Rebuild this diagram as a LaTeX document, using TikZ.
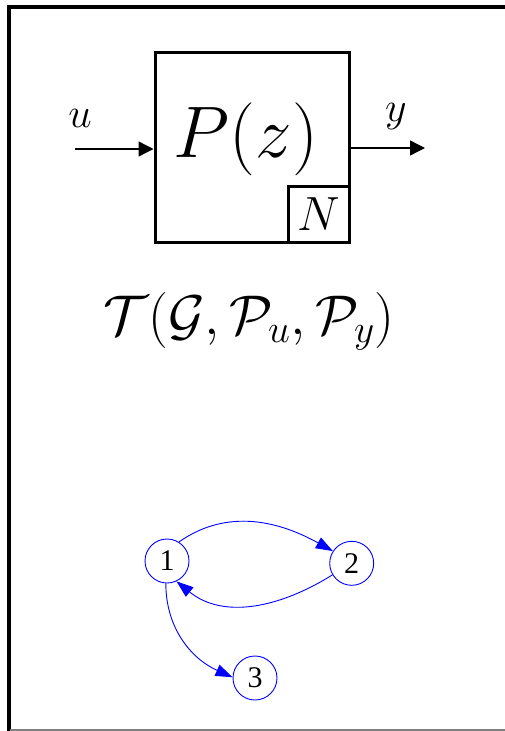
\RequirePackage{fix-cm}
\documentclass[tikz,border=0pt]{standalone}
\usepackage{fontspec}
\newfontfamily\timesf{Liberation Serif}
\usetikzlibrary{arrows.meta}
\begin{document}
\begin{tikzpicture}[x=1pt,y=-1pt,
  blkbox/.style={draw=black, line width=3pt, inner sep=0pt},
  blkarrow/.style={draw=black, line width=1.4pt, -{Triangle[length=15pt,width=15pt]}},
  gnode/.style={circle, draw=blue, line width=0.9pt, minimum size=44pt, inner sep=0pt, font=\timesf\fontsize{30}{33}\selectfont},
  gedge/.style={draw=blue, line width=0.9pt, -{Triangle[length=17pt,width=12pt]}, blue}
]
\useasboundingbox (0,0) rectangle (505,731);
% frame
\draw[black, line width=4pt] (8.5,731) -- (8.5,7) -- (505,7);
\draw[gray, line width=1.5pt] (10,730) -- (505,730);
% plant block
\node[blkbox, minimum width=194pt, minimum height=190pt] (plant) at (252,147) {};
\node[blkbox, minimum width=61pt, minimum height=56pt] (nbox) at (318.5,214) {\fontsize{48}{52}\selectfont $N$};
\node[anchor=base, inner sep=0pt] (ptext) at (246,157) {\fontsize{73}{80}\selectfont $P(z)$};
% input / output
\coordinate (uin) at (75,149);
\coordinate (yout) at (425,148);
\draw[blkarrow] (uin) -- (uin -| plant.west);
\draw[blkarrow] (plant.east |- yout) -- (yout);
\node[anchor=base, inner sep=0pt] (ulab) at (80,127) {\fontsize{42}{46}\selectfont $u$};
\node[anchor=base, inner sep=0pt] (ylab) at (396,121) {\fontsize{42}{46}\selectfont $y$};
% formula
\node[anchor=base, inner sep=0pt] (tline) at (249,334) {\fontsize{56}{62}\selectfont $\mathcal{T}(\mathcal{G},\mathcal{P}_u,\mathcal{P}_y)$};
% graph
\node[gnode] (n1) at (167,561) {1};
\node[gnode] (n2) at (351.7,563.3) {2};
\node[gnode] (n3) at (255,678) {3};
\draw[gedge] (n1.58) to[out=35,in=151] (n2.147);
\draw[gedge] (n2.211) to[out=212,in=-39] (n1.-65);
\draw[gedge] (n1.-93) to[out=-90,in=156] (n3.178);
\end{tikzpicture}
\end{document}
